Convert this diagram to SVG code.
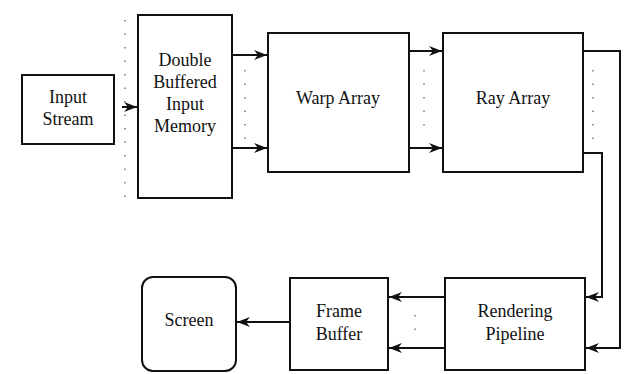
<svg xmlns="http://www.w3.org/2000/svg" width="626" height="374" viewBox="0 0 626 374">
<style>
.box{fill:#fff;stroke:#111;stroke-width:2}
.t{font-family:"Liberation Serif","Times New Roman",serif;font-size:18px;fill:#111;text-anchor:middle}
.c{fill:none;stroke:#111;stroke-width:2}
.dot{fill:none;stroke:#777;stroke-width:1.5;stroke-dasharray:1.5 12}
</style>
<defs>
<marker id="ah" markerWidth="14" markerHeight="10" refX="13" refY="5" orient="auto" markerUnits="userSpaceOnUse">
<path d="M0,0 L13,5 L0,10 L4,5 Z" fill="#111"/>
</marker>
</defs>
<g id="connectors">
<line class="c" x1="122" y1="107" x2="137" y2="107" marker-end="url(#ah)"/>
<line class="c" x1="232" y1="55" x2="267" y2="55" marker-end="url(#ah)"/>
<line class="c" x1="232" y1="148" x2="267" y2="148" marker-end="url(#ah)"/>
<line class="c" x1="409" y1="51" x2="442" y2="51" marker-end="url(#ah)"/>
<line class="c" x1="409" y1="148" x2="442" y2="148" marker-end="url(#ah)"/>
<polyline class="c" points="583,51 620,51 620,348 586,348" marker-end="url(#ah)"/>
<polyline class="c" points="583,153 602,153 602,297 586,297" marker-end="url(#ah)"/>
<line class="c" x1="444" y1="297" x2="389" y2="297" marker-end="url(#ah)"/>
<line class="c" x1="444" y1="348" x2="389" y2="348" marker-end="url(#ah)"/>
<line class="c" x1="290" y1="322" x2="237" y2="322" marker-end="url(#ah)" stroke-width="1.5"/>
<line class="dot" x1="125" y1="20" x2="125" y2="200"/>
<line class="dot" x1="245" y1="70" x2="245" y2="140"/>
<line class="dot" x1="424" y1="70" x2="424" y2="132"/>
<line class="dot" x1="593" y1="70" x2="593" y2="140"/>
<line class="dot" x1="415" y1="315" x2="415" y2="332"/>
</g>
<g id="input-stream">
<rect class="box" x="22" y="75" width="92" height="69"/>
<text class="t" x="68" y="103">Input</text>
<text class="t" x="68" y="125">Stream</text>
</g>
<g id="input-memory">
<rect class="box" x="138" y="15" width="94" height="183"/>
<text class="t" x="185" y="66">Double</text>
<text class="t" x="185" y="88">Buffered</text>
<text class="t" x="185" y="110">Input</text>
<text class="t" x="185" y="132">Memory</text>
</g>
<g id="warp-array">
<rect class="box" x="268" y="33" width="141" height="139"/>
<text class="t" x="338" y="104">Warp Array</text>
</g>
<g id="ray-array">
<rect class="box" x="443" y="33" width="140" height="139"/>
<text class="t" x="513" y="104">Ray Array</text>
</g>
<g id="rendering-pipeline">
<rect class="box" x="445" y="278" width="140" height="92"/>
<text class="t" x="515" y="317">Rendering</text>
<text class="t" x="515" y="340">Pipeline</text>
</g>
<g id="frame-buffer">
<rect class="box" x="290" y="278" width="98" height="92"/>
<text class="t" x="339" y="317">Frame</text>
<text class="t" x="339" y="340">Buffer</text>
</g>
<g id="screen">
<rect class="box" x="142" y="277" width="94" height="94" rx="11" ry="11"/>
<text class="t" x="189" y="326">Screen</text>
</g>
</svg>
